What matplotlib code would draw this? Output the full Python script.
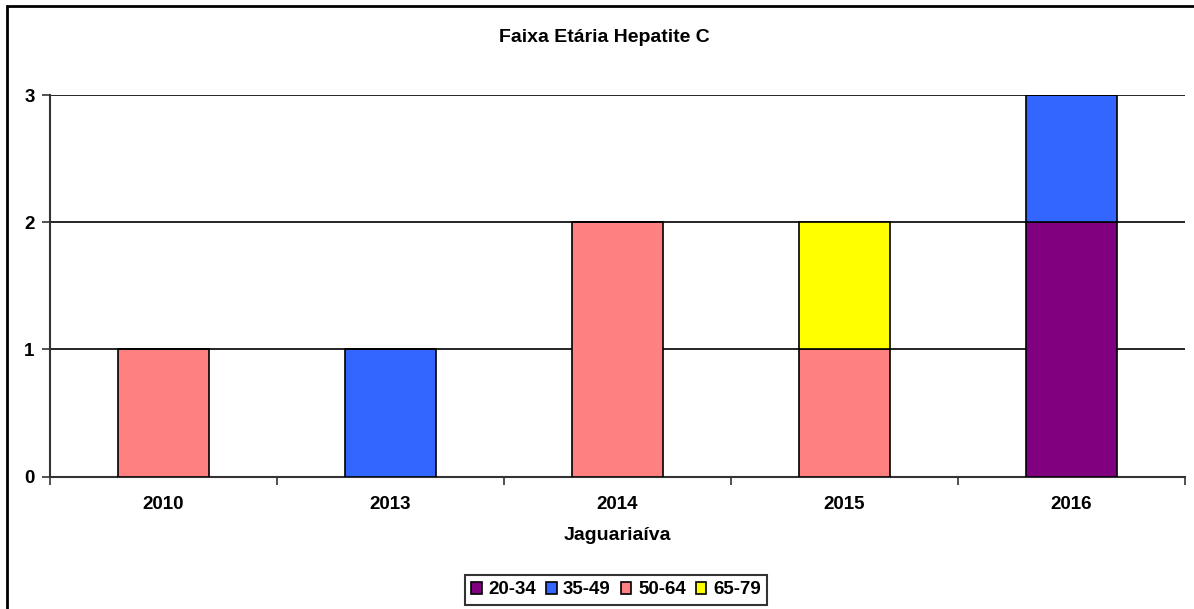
import matplotlib
matplotlib.use("Agg")
import matplotlib.pyplot as plt
import numpy as np
from matplotlib.patches import Rectangle

categories = ["2010", "2013", "2014", "2015", "2016"]
series_names = ["20-34", "35-49", "50-64", "65-79"]
s_20_34 = [0, 0, 0, 0, 2]
s_35_49 = [0, 1, 0, 0, 1]
s_50_64 = [1, 0, 2, 1, 0]
s_65_79 = [0, 0, 0, 1, 0]
colors = ["#800080", "#3366FF", "#FF8080", "#FFFF00"]
yticks = [0, 1, 2, 3]

plt.rcParams['font.family'] = ['Liberation Sans', 'DejaVu Sans']
plt.rcParams['font.weight'] = 'bold'

fig = plt.figure(figsize=(11.94, 6.09), dpi=100)
ax = fig.add_axes([50/1194, 1-476.7/609, (1185-50)/1194, (476.7-95)/609])

# outer frame
fig.patches.append(Rectangle((7/1194, -0.1), 1.2, 1 - 6/609 + 0.1, transform=fig.transFigure,
                             fill=False, edgecolor='black', linewidth=2, zorder=0))

x = np.arange(len(categories))
bottom = np.zeros(len(categories))
for name, vals, c in zip(series_names, [s_20_34, s_35_49, s_50_64, s_65_79], colors):
    vals = np.array(vals, dtype=float)
    ax.bar(x, vals, width=0.4, bottom=bottom, color=c, edgecolor='black', linewidth=1.2,
           label=name, zorder=3)
    bottom += vals

ax.set_xlim(-0.5, len(categories) - 0.5)
ax.set_ylim(0, 3)
ax.set_yticks(yticks)
ax.set_yticklabels([str(v) for v in yticks], fontsize=13.5, fontweight='bold')
ax.set_xticks(x)
ax.set_xticklabels(categories, fontsize=13.5, fontweight='bold')
ax.tick_params(axis='x', which='major', length=0, pad=14)
ax.set_xticks(np.arange(-0.5, len(categories)), minor=True)
ax.tick_params(axis='x', which='minor', length=6, width=1.2, color='#333333')
ax.tick_params(axis='y', which='major', length=6, width=1.2, color='#333333', pad=5)
ax.yaxis.grid(True, color='black', linewidth=1.2, zorder=0)
ax.set_axisbelow(True)
for s in ['top', 'right']:
    ax.spines[s].set_visible(False)
for s in ['left', 'bottom']:
    ax.spines[s].set_color('#333333')
    ax.spines[s].set_linewidth(1.5)

ax.set_xlabel("Jaguariaíva", fontsize=14, fontweight='bold', labelpad=10)
fig.text(604/1194, 1 - 37/609, "Faixa Etária Hepatite C", ha='center', va='center',
         fontsize=14, fontweight='bold')

leg = fig.legend(loc='center', bbox_to_anchor=(616/1194, 1 - 590/609), ncol=4,
                 fontsize=13.5, frameon=True, fancybox=False, edgecolor='black',
                 handlelength=0.55, handleheight=0.55, handletextpad=0.35, columnspacing=0.55,
                 borderpad=0.35, borderaxespad=0)
leg.get_frame().set_linewidth(1.5)
for t in leg.get_texts():
    t.set_fontweight('bold')

fig.savefig("out.png", dpi=100)
